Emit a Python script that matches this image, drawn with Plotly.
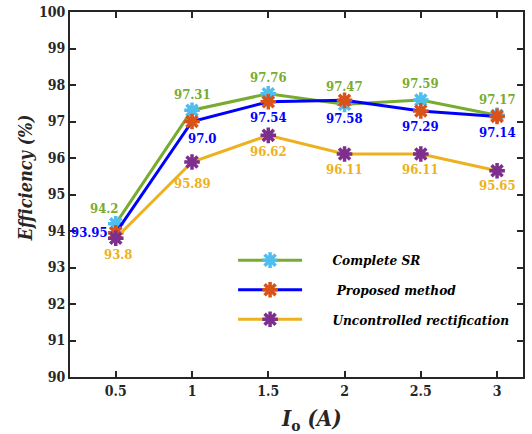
import plotly.graph_objects as go

current = [0.5, 1, 1.5, 2, 2.5, 3]
complete_sr = [94.2, 97.31, 97.76, 97.47, 97.59, 97.17]
proposed = [93.95, 97.0, 97.54, 97.58, 97.29, 97.14]
uncontrolled = [93.8, 95.89, 96.62, 96.11, 96.11, 95.65]

complete_lbl = ["94.2", "97.31", "97.76", "97.47", "97.59", "97.17"]
proposed_lbl = ["93.95", "97.0", "97.54", "97.58", "97.29", "97.14"]
uncontrolled_lbl = ["93.8", "95.89", "96.62", "96.11", "96.11", "95.65"]

FONT = "DejaVu Serif Condensed, DejaVu Serif, serif"

fig = go.Figure()

def add(name, y, lc, mc, group):
    fig.add_trace(go.Scatter(
        x=current, y=y, name=name, mode="lines+markers",
        line=dict(color=lc, width=3),
        marker=dict(symbol="asterisk-open", size=13, color=mc,
                    line=dict(color=mc, width=3.5)),
        legendgroup=group,
    ))

add("<b><i>      Complete SR</i></b>", complete_sr, "#77AC30", "#4DBEEE", "a")
add("<b><i>       Proposed method</i></b>", proposed, "#0000FF", "#D95319", "b")
add("<b><i>      Uncontrolled rectification</i></b>", uncontrolled, "#EDB120", "#7E2F8E", "c")

# label offsets in pixels (dx, dy), dy positive = downward
green_pos = [(-12, -15), (0, -16), (0, -16), (0, -18), (0, -16), (0, -16)]
blue_pos = [(-26, 0), (10, 17), (0, 16), (0, 18), (0, 16), (0, 16)]
yel_pos = [(2, 16), (0, 21), (0, 16), (0, 16), (0, 16), (0, 15)]
for xs, ys, labels, pos, col in [
    (current, complete_sr, complete_lbl, green_pos, "#77AC30"),
    (current, proposed, proposed_lbl, blue_pos, "#0000FF"),
    (current, uncontrolled, uncontrolled_lbl, yel_pos, "#EDB120"),
]:
    for x, y, t, (dx, dy) in zip(xs, ys, labels, pos):
        fig.add_annotation(x=x, y=y, text="<b>" + t + "</b>", showarrow=False,
                           xshift=dx, yshift=-dy,
                           font=dict(family=FONT, size=13, color=col))

fig.add_annotation(xref="paper", yref="paper", x=0.534, y=-0.118, yanchor="middle",
                   text="<b><i>I</i><sub>o</sub><i> (A)</i></b>", showarrow=False,
                   font=dict(family=FONT, size=22, color="#262626"))
fig.add_annotation(xref="paper", yref="paper", x=-0.099, y=0.545, xanchor="center",
                   yanchor="middle", textangle=-90,
                   text="<b><i>Efficiency (%)</i></b>", showarrow=False,
                   font=dict(family=FONT, size=18, color="#262626"))

axis_common = dict(
    showline=True, linecolor="#262626", linewidth=2, mirror="ticks",
    ticks="inside", ticklen=6, tickwidth=1.5, tickcolor="#262626",
    showgrid=False, zeroline=False, automargin=False,
    tickfont=dict(family=FONT, size=14, color="#262626"),
)

fig.update_layout(
    width=532, height=434,
    margin=dict(l=70, r=9, t=12, b=57),
    paper_bgcolor="white", plot_bgcolor="white",
    xaxis=dict(range=[0.2, 3.17], tickvals=current,
               ticktext=["<b>0.5</b>", "<b>1</b>", "<b>1.5</b>", "<b>2</b>", "<b>2.5</b>", "<b>3</b>"],
               **axis_common),
    yaxis=dict(range=[90, 100], tickvals=list(range(90, 101)),
               ticktext=["<b>%d</b>" % v for v in range(90, 101)],
               **axis_common),
    legend=dict(x=0.36, y=0.362, xanchor="left", yanchor="top",
                bgcolor="rgba(0,0,0,0)", itemwidth=64,
                tracegroupgap=9, traceorder="grouped",
                font=dict(family=FONT, size=13.5, color="black")),
    showlegend=True,
)

fig.write_html("out.html", config={"displayModeBar": False},
               post_script="document.body.style.margin='0';document.body.style.padding='0';")
